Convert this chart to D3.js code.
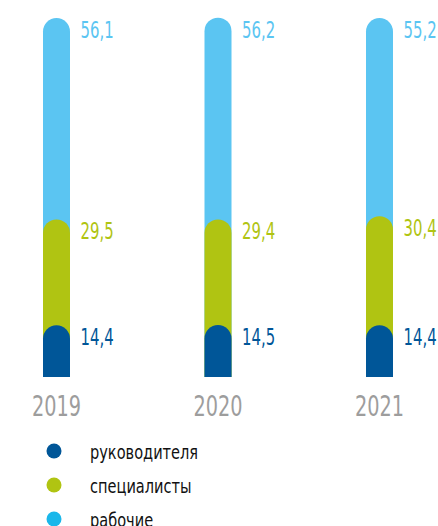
<!DOCTYPE html>
<html>
<head>
<meta charset="utf-8">
<script src="https://cdn.jsdelivr.net/npm/d3@7"></script>
<style>
  body { margin: 0; background: #fff; overflow: hidden; }
  text { font-family: "DejaVu Sans Condensed", "DejaVu Sans", sans-serif; }
</style>
</head>
<body>
<svg id="chart" width="438" height="526"></svg>
<script>
"use strict"

const years = ["2019", "2020", "2021"]
const managers = [14.4, 14.5, 14.4]
const specialists = [29.5, 29.4, 30.4]
const workers = [56.1, 56.2, 55.2]
const seriesNames = ["руководителя", "специалисты", "рабочие"]

const colors = ["#005698", "#b0c412", "#5bc5f2"]
const legendColors = ["#005698", "#b0c412", "#1ab7ea"]

const svg = d3.select("#chart")
const barWidth = 27
const r = barWidth / 2

const x = d3.scalePoint().domain(years).range([56.5, 379.5])
const y = d3.scaleLinear().domain([0, 100]).range([377, 18])

// cumulative tops per segment, drawn from the top one down so the lower caps overlap
const series = [managers, specialists, workers]
const stacks = years.map((yr, i) => {
    let cum = 0
    return series.map((s, k) => {
        cum += s[i]
        return { year: yr, k: k, value: s[i], top: cum }
    })
})

function capPath(d) {
    const x0 = x(d.year) - r, x1 = x(d.year) + r
    const t = y(d.top), b = y(0)
    return "M" + x0 + "," + b +
        "V" + (t + r) +
        "A" + r + "," + r + " 0 0 1 " + x1 + "," + (t + r) +
        "V" + b + "Z"
}

const segs = stacks.flat().sort((a, b) => b.k - a.k)

svg.selectAll(".seg")
    .data(segs)
    .enter()
    .append("path")
    .attr("class", "seg")
    .attr("d", capPath)
    .style("fill", d => colors[d.k])

// condensed look: squeeze the text horizontally
svg.selectAll(".val")
    .data(segs)
    .enter()
    .append("text")
    .attr("class", "val")
    .attr("transform", d => "translate(" + (x(d.year) + r + 10.5) + "," + (y(d.top) + 20) + ") scale(0.72,1)")
    .style("font-size", "23px")
    .style("fill", d => colors[d.k])
    .text(d => d3.format(".1f")(d.value).replace(".", ","))

svg.selectAll(".year")
    .data(years)
    .enter()
    .append("text")
    .attr("class", "year")
    .attr("transform", d => "translate(" + x(d) + ",416) scale(0.74,1)")
    .attr("text-anchor", "middle")
    .style("font-size", "29px")
    .style("fill", "#9d9d9d")
    .text(d => d)

const legendY = d3.scalePoint().domain(seriesNames).range([451, 519])

const legend = svg.selectAll(".legend")
    .data(seriesNames)
    .enter()
    .append("g")
    .attr("class", "legend")
    .attr("transform", d => "translate(54," + legendY(d) + ")")

legend.append("circle")
    .attr("r", 7.5)
    .style("fill", (d, i) => legendColors[i])

legend.append("text")
    .attr("transform", "translate(36,8) scale(0.81,1)")
    .style("font-size", "20px")
    .style("fill", "#111")
    .text(d => d)
</script>
</body>
</html>
